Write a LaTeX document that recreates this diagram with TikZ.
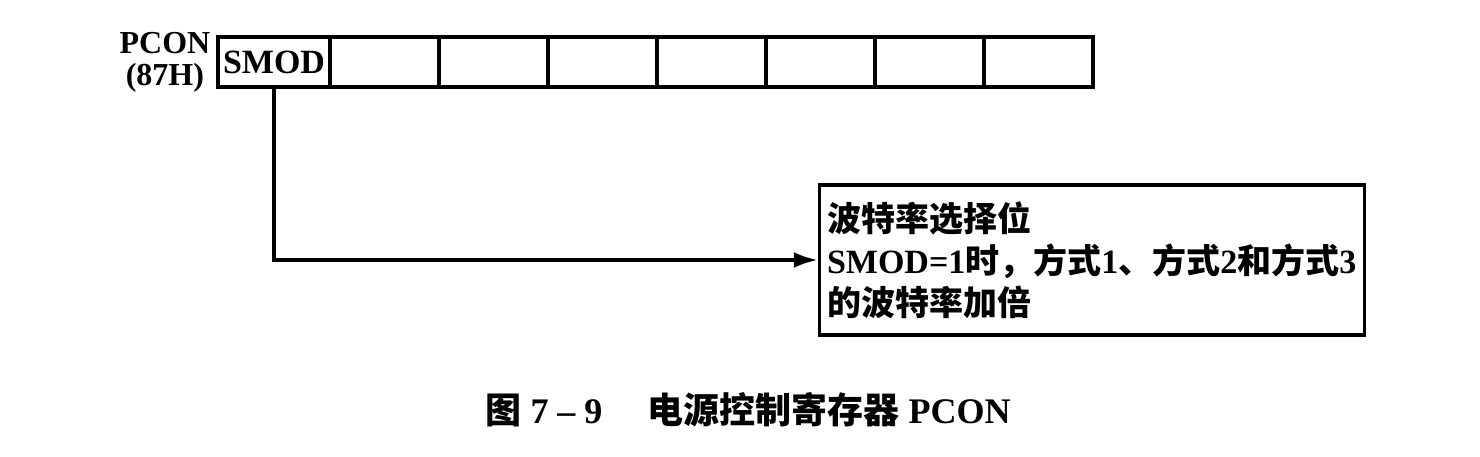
\documentclass[tikz,border=0pt]{standalone}
\usepackage{fontspec}
\setmainfont{Liberation Serif}
\newfontfamily\cjk{Noto Sans CJK SC}
\usetikzlibrary{arrows.meta,positioning}
\newcommand{\zh}[1]{{\cjk\bfseries #1}}

\begin{document}
\begin{tikzpicture}[x=1pt, y=-1pt, >={Latex[length=24pt,width=16pt]}, line width=3.5pt]
  \tikzstyle{cell} = [rectangle, draw, line width=4.5pt, outer sep=0pt, inner sep=0pt, minimum width=109pt, minimum height=50pt, font=\fontsize{34}{34}\selectfont\bfseries]
  \tikzstyle{note} = [rectangle, draw, minimum width=545pt, minimum height=150pt, text width=530pt, align=left, inner sep=7pt, font=\fontsize{34}{42}\selectfont\bfseries]
  \useasboundingbox (0,0) rectangle (1480,457);

  % register cells, bit 7 down to bit 0
  \node[cell, minimum width=112pt] (b7) at (274,62) {SMOD};
  \foreach \i/\j in {6/7,5/6,4/5,3/4,2/3,1/2,0/1}
    \node[cell, right=0pt of b\j] (b\i) {};
  \node[left=6pt of b7, align=center, inner sep=0pt, font=\fontsize{32}{32}\selectfont\bfseries] (pcon) {PCON\\(87H)};

  \node[note] (desc) at (1092,260) {\zh{波特率选择位}\\
    SMOD=1\zh{时，方式}1\zh{、方式}2\zh{和方式}3\\
    \zh{的波特率加倍}};

  \draw[->] (b7.south) |- (desc.west);

  \node[font=\fontsize{36}{36}\selectfont\bfseries] (caption) at (748,410) {\zh{图} 7 – 9\hspace{45pt}\zh{电源控制寄存器} PCON};
\end{tikzpicture}
\end{document}
